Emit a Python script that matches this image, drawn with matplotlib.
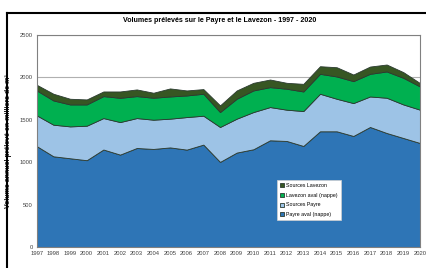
import matplotlib
matplotlib.use("Agg")
import matplotlib.pyplot as plt
import numpy as np

years = list(range(1997, 2021))
payre_aval = [1190, 1070, 1047, 1024, 1150, 1090, 1168, 1157, 1175, 1149, 1208, 1004,
              1114, 1153, 1259, 1251, 1192, 1365, 1365, 1310, 1416, 1345, 1286, 1227]
sources_payre = [363, 373, 376, 407, 371, 384, 353, 345, 339, 384, 341, 412,
                 400, 439, 392, 369, 412, 443, 384, 388, 360, 416, 396, 393]
lavezon_aval = [294, 286, 259, 251, 259, 286, 259, 259, 262, 255, 259, 176,
                235, 255, 235, 247, 231, 235, 263, 259, 267, 310, 314, 274]
sources_lavezon = [67, 79, 67, 59, 55, 75, 79, 59, 95, 59, 55, 79,
                   98, 90, 90, 70, 90, 90, 109, 78, 86, 82, 67, 40]

labels = ["Payre aval (nappe)", "Sources Payre", "Lavezon aval (nappe)", "Sources Lavezon"]
colors = ["#2E75B6", "#9DC3E6", "#00B050", "#375623"]

plt.rcParams['font.family'] = ['Liberation Sans', 'DejaVu Sans']

fig = plt.figure(figsize=(4.27, 2.68), dpi=100)
ax = fig.add_axes([0.086, 0.0784, 0.8976, 0.7906])

polys = ax.stackplot(years, payre_aval, sources_payre, lavezon_aval, sources_lavezon,
                     colors=colors, labels=labels, edgecolor="#2a3a30", linewidth=0.6)

ax.set_xlim(1997, 2020)
ax.set_ylim(0, 2500)
ax.set_yticks([0, 500, 1000, 1500, 2000, 2500])
ax.set_xticks(years)
ax.tick_params(axis='both', length=0, labelsize=4.2, colors="#404040", pad=3)
ax.grid(axis='y', color="#b0b0b0", linewidth=0.8, zorder=0)
ax.set_axisbelow(True)
for s in ax.spines.values():
    s.set_color("#808080")
    s.set_linewidth(0.8)

ax.set_ylabel("Volume annuel prélevé en milliers de m³", fontsize=5.0, fontweight='bold',
              color='#202020', labelpad=5)

fig.text(0.515, 0.925, "Volumes prélevés sur le Payre et le Lavezon - 1997 - 2020",
         ha='center', va='center', fontsize=5.1, fontweight='bold')

handles, lbls = ax.get_legend_handles_labels()
leg = ax.legend(handles[::-1], lbls[::-1], loc='upper left', bbox_to_anchor=(0.62, 0.33),
                fontsize=3.8, frameon=True, fancybox=False, edgecolor="#d0d0d0",
                framealpha=1.0, facecolor='white',
                handlelength=0.8, handleheight=0.8, handletextpad=0.3, labelspacing=0.9,
                borderpad=0.6)
leg.get_frame().set_linewidth(0.5)

# outer black frame (left and top)
fig.add_artist(plt.Line2D([7/427, 7/427], [0, 1 - 13/268], color='black', linewidth=1.5, transform=fig.transFigure))
fig.add_artist(plt.Line2D([7/427, 1], [1 - 13/268, 1 - 13/268], color='black', linewidth=1.5, transform=fig.transFigure))

fig.savefig("out.png", dpi=100)
